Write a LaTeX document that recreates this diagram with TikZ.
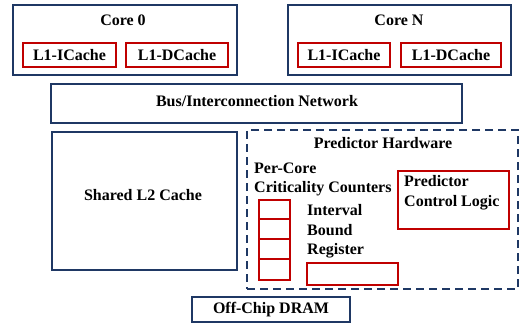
\documentclass[tikz,border=0pt]{standalone}
\usepackage{fontspec}
\setmainfont{Liberation Serif}
\usetikzlibrary{positioning}

\definecolor{navy}{HTML}{1F3864}
\definecolor{boxred}{HTML}{C00000}

\tikzset{
    bluebox/.style={draw=navy, line width=2pt, inner sep=0pt},
    redbox/.style={draw=boxred, line width=1.8pt, inner sep=0pt},
    dashbox/.style={draw=navy, line width=2pt, dash pattern=on 8pt off 5pt, inner sep=0pt},
    lbl/.style={font=\bfseries\fontsize{16}{19.5}\selectfont, inner sep=0pt, align=left},
}

\begin{document}
\begin{tikzpicture}[x=1pt, y=-1pt]

    % Page size
    \useasboundingbox (0,0) rectangle (524,326);

    % Cores
    \node[bluebox, minimum width=224, minimum height=70] (core0) at (125,40) {};
    \node[lbl] (core0lbl) at (123,20) {Core 0};
    \node[redbox, minimum width=93, minimum height=24] (icache0) at (69.5,55) {};
    \node[lbl] at (icache0) {L1-ICache};
    \node[redbox, minimum width=102, minimum height=24] (dcache0) at (177,55) {};
    \node[lbl] at (dcache0) {L1-DCache};

    \node[bluebox, minimum width=223, minimum height=70] (coreN) at (399,40) {};
    \node[lbl] (coreNlbl) at (399,20) {Core N};
    \node[redbox, minimum width=92, minimum height=24] (icacheN) at (344,55) {};
    \node[lbl] at (icacheN) {L1-ICache};
    \node[redbox, minimum width=100, minimum height=24] (dcacheN) at (451,55) {};
    \node[lbl] at (dcacheN) {L1-DCache};

    % Bus
    \node[bluebox, minimum width=411, minimum height=39] (bus) at (256.5,103.5) {};
    \node[lbl] (buslbl) at (257,101) {Bus/Interconnection Network};

    % L2
    \node[bluebox, minimum width=185, minimum height=138] (l2) at (144.5,201) {};
    \node[lbl] (l2lbl) at (143,195) {Shared L2 Cache};

    % Predictor hardware
    \node[dashbox, minimum width=271, minimum height=159] (pred) at (382.5,209.5) {};
    \node[lbl] (predlbl) at (383,143) {Predictor Hardware};
    \node[lbl, anchor=west] (cntlbl) at (254,179.5) {Per-Core\\Criticality Counters};
    % Counters
    \node[redbox, minimum width=31, minimum height=80] (cnt) at (274.5,240) {};
    \foreach \i in {1,2,3}
        \draw[boxred, line width=1.8pt] ([yshift=-20*\i]cnt.north west) -- ([yshift=-20*\i]cnt.north east);
    \node[lbl, anchor=west] (reglbl) at (307,231.5) {Interval\\Bound\\Register};
    \node[redbox, minimum width=91, minimum height=22] (reg) at (352.5,274) {};
    \node[redbox, minimum width=111, minimum height=58] (ctrl) at (453.5,200) {};
    \node[lbl, anchor=west] (ctrllbl) at (404,192.5) {Predictor\\Control Logic};

    % DRAM
    \node[bluebox, minimum width=158, minimum height=25] (dram) at (271,309.5) {};
    \node[lbl] (dramlbl) at (271,310) {Off-Chip DRAM};

\end{tikzpicture}
\end{document}
